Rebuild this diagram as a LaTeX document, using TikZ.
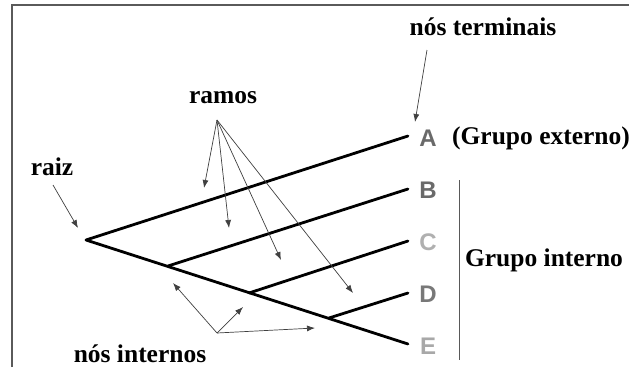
\documentclass[tikz,border=0pt]{standalone}
\usepackage{fontspec}
\setmainfont{Liberation Serif}
\newfontfamily\lblfont{Liberation Sans}
\usetikzlibrary{arrows.meta}
\definecolor{grA}{HTML}{6A6A6A}
\definecolor{grB}{HTML}{6A6A6A}
\definecolor{grC}{HTML}{B0B0B0}
\definecolor{grD}{HTML}{787878}
\definecolor{grE}{HTML}{A8A8A8}
\definecolor{frame}{HTML}{5A5A5A}
\tikzset{
  branch/.style={line width=2.8pt, line cap=round, line join=round},
  pointer/.style={line width=0.7pt, draw=black!75, -{Latex[length=8pt,width=6pt]}},
  caption/.style={font=\fontsize{25.5}{28}\selectfont\bfseries, inner sep=0pt, anchor=center},
  taxon/.style={font=\lblfont\fontsize{24}{26}\selectfont\bfseries, inner sep=0pt, anchor=center},
}
\begin{document}
\begin{tikzpicture}[x=1pt, y=-1pt]
\useasboundingbox (0,0) rectangle (629,367);
\fill[white] (0,0) rectangle (629,367);
% frame (top and left edges)
\draw[frame, line width=1.4pt] (12,367) -- (12,5) -- (629,5);

% tree nodes
\coordinate (root) at (86,240);
\coordinate (n1) at (168,266);
\coordinate (n2) at (249,293);
\coordinate (n3) at (329,318);
\coordinate (tA) at (408,136);
\coordinate (tB) at (408,189);
\coordinate (tC) at (408,241);
\coordinate (tD) at (408,293);
\coordinate (tE) at (408,344);

% branches
\draw[branch] (tA) -- (root) -- (tE);
\draw[branch] (n1) -- (tB);
\draw[branch] (n2) -- (tC);
\draw[branch] (n3) -- (tD);

% taxon labels
\node[taxon, text=grA] (A) at (428,138) {A};
\node[taxon, text=grB] (B) at (428,190) {B};
\node[taxon, text=grC] (C) at (428,242) {C};
\node[taxon, text=grD] (D) at (428,294) {D};
\node[taxon, text=grE] (E) at (428,346) {E};

% captions
\node[caption] (term) at (483,27) {nós terminais};
\node[caption] (ramos) at (223,98) {ramos};
\node[caption] (raiz) at (52,167) {raiz};
\node[caption] (ext) at (541,138) {(Grupo externo)};
\node[caption] (int) at (544,260) {Grupo interno};
\node[caption] (intn) at (140,354) {nós internos};

% group bar
\coordinate (barT) at (459,180);
\coordinate (barB) at (459,360);
\draw[black!65, line width=0.9pt] (barT) -- (barB);

% pointer origins and tips
\coordinate (pT0) at (427,50);
\coordinate (pT1) at (415,122);
\draw[pointer] (pT0) -- (pT1);

\coordinate (pR0) at (217,120);
\coordinate (pR1) at (204,188);
\coordinate (pR2) at (229,228);
\coordinate (pR3) at (281,260);
\coordinate (pR4) at (353,293);
\draw[pointer] (pR0) -- (pR1);
\draw[pointer] (pR0) -- (pR2);
\draw[pointer] (pR0) -- (pR3);
\draw[pointer] (pR0) -- (pR4);

\coordinate (pZ0) at (53,185);
\coordinate (pZ1) at (78,228);
\draw[pointer] (pZ0) -- (pZ1);

\coordinate (pI0) at (217,333);
\coordinate (pI1) at (173,283);
\coordinate (pI2) at (243,307);
\coordinate (pI3) at (315,328);
\draw[pointer] (pI0) -- (pI1);
\draw[pointer] (pI0) -- (pI2);
\draw[pointer] (pI0) -- (pI3);
\end{tikzpicture}
\end{document}
